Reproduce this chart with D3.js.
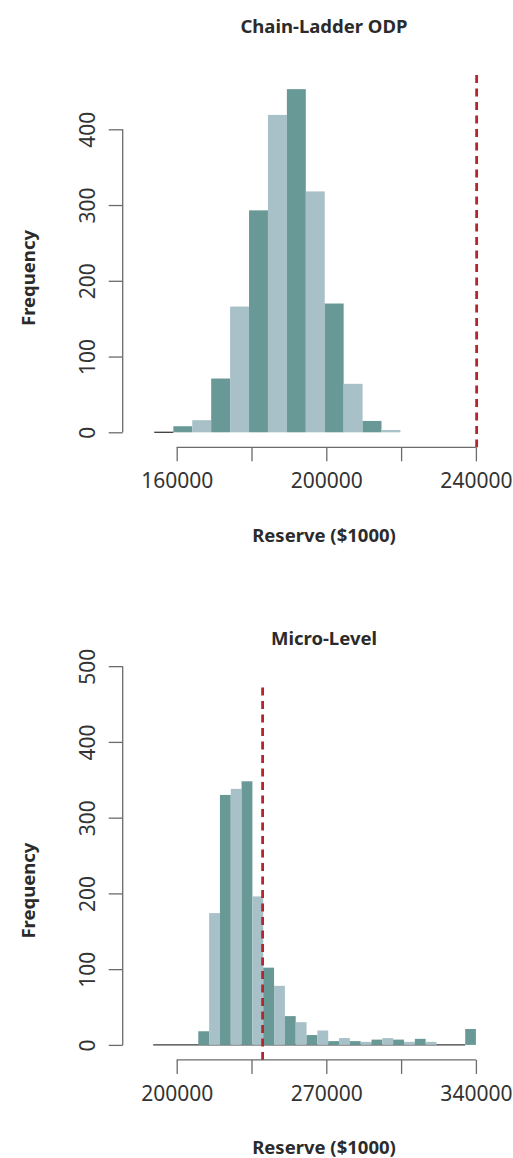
<!DOCTYPE html>
<html>
<head>
<meta charset="utf-8">
<script src="https://cdn.jsdelivr.net/npm/d3@7"></script>
<style>
  body { margin: 0; background: #fff; }
  svg { display: block; font-family: "Noto Sans", sans-serif; }
  .axis path, .axis line { stroke: #6b6b6b; stroke-width: 1.3; }
  .axis text { fill: #333; font-size: 21px; font-family: "Noto Sans", sans-serif; }
  .lab { fill: #2b2b2b; font-size: 18.5px; font-weight: bold; }
</style>
</head>
<body>
<div id="chart"></div>
<script>
// Chain-Ladder ODP histogram (reserve in $1000)
var odpBreaks = [159100, 164160, 169220, 174280, 179340, 184400, 189460, 194520, 199580, 204640, 209700, 214760, 219820];
var odpCounts = [8, 16, 71, 166, 293, 419, 453, 318, 170, 64, 15, 3];
var odpZero = [154000, 159100];
var odpXTicks = [160000, 180000, 200000, 220000, 240000];
var odpXLabels = [160000, 200000, 240000];
var odpYTicks = [0, 100, 200, 300, 400];

// Micro-Level histogram
var microBreaks = [210100, 215170, 220230, 225300, 230360, 235430, 240500, 245560, 250630, 255690, 260760, 265820,
                   270890, 275960, 281020, 286090, 291150, 296220, 301280, 306350, 311420, 316480, 321550];
var microCounts = [18, 174, 330, 338, 348, 196, 102, 78, 38, 30, 13, 19, 5, 9, 5, 4, 7, 9, 7, 4, 8, 4];
var microTail = [335000, 340000, 21];
var microZero = [189000, 335000];
var microXTicks = [200000, 235000, 270000, 305000, 340000];
var microXLabels = [200000, 270000, 340000];
var microYTicks = [0, 100, 200, 300, 400, 500];

// actual reserve (red dashed line)
var actualReserve = 240200;

var dark = "#689996", light = "#a8c1c8", red = "#b3262e";

function initialize(){
    var svg = d3.select("#chart").append("svg")
        .attr("width", 513)
        .attr("height", 1158);

    drawPanel(svg, {
        top: 0,
        title: "Chain-Ladder ODP",
        breaks: odpBreaks, counts: odpCounts, zero: odpZero, tail: null,
        xDomain: [160000, 240000], xTicks: odpXTicks, xLabels: odpXLabels,
        yMax: 400, yTicks: odpYTicks
    });

    drawPanel(svg, {
        top: 612.6,
        title: "Micro-Level",
        breaks: microBreaks, counts: microCounts, zero: microZero, tail: microTail,
        xDomain: [200000, 340000], xTicks: microXTicks, xLabels: microXLabels,
        yMax: 500, yTicks: microYTicks
    });
};

function drawPanel(svg, cfg){
    var g = svg.append("g").attr("transform", "translate(0," + cfg.top + ")");

    var axisX = 122.7,   // y axis position
        axisY = 447.3,   // x axis position
        plotTop = 75,
        centerX = 324;

    var x = d3.scaleLinear().domain(cfg.xDomain).range([176.7, 475.9]);
    var y = d3.scaleLinear().domain([0, cfg.yMax]).range([432.3, 432.3 - 0.7575 * cfg.yMax]);

    // zero-count stretch of the histogram
    g.append("line")
        .attr("x1", x(cfg.zero[0])).attr("x2", x(cfg.zero[1]))
        .attr("y1", y(0)).attr("y2", y(0))
        .attr("stroke", "#3a3a3a").attr("stroke-width", 1.3);

    var bins = cfg.counts.map(function(c, i){
        return { x0: cfg.breaks[i], x1: cfg.breaks[i + 1], n: c, fill: i % 2 == 0 ? dark : light };
    });
    if (cfg.tail){
        bins.push({ x0: cfg.tail[0], x1: cfg.tail[1], n: cfg.tail[2], fill: dark });
    }

    g.selectAll("rect.bar")
        .data(bins)
        .enter().append("rect")
        .attr("class", "bar")
        .attr("x", function(d){ return x(d.x0); })
        .attr("width", function(d){ return x(d.x1) - x(d.x0); })
        .attr("y", function(d){ return y(d.n); })
        .attr("height", function(d){ return y(0) - y(d.n); })
        .attr("fill", function(d){ return d.fill; });

    // red dashed line for the actual reserve
    g.append("line")
        .attr("x1", x(actualReserve)).attr("x2", x(actualReserve))
        .attr("y1", plotTop).attr("y2", axisY)
        .attr("stroke", red).attr("stroke-width", 2.8)
        .attr("stroke-dasharray", "8,5.5");

    // x axis
    var xAxis = d3.axisBottom(x)
        .tickValues(cfg.xTicks)
        .tickSize(14)
        .tickSizeOuter(0)
        .tickFormat(function(d){ return cfg.xLabels.indexOf(d) > -1 ? String(d) : ""; });

    var gx = g.append("g")
        .attr("class", "axis")
        .attr("transform", "translate(0," + axisY + ")")
        .call(xAxis);
    gx.select(".domain").remove();
    gx.append("line")
        .attr("x1", x(cfg.xTicks[0])).attr("x2", x(cfg.xTicks[cfg.xTicks.length - 1]))
        .attr("stroke", "#6b6b6b").attr("stroke-width", 1.3);
    gx.selectAll(".tick text")
        .attr("y", 41).attr("dy", 0);

    // y axis
    var yAxis = d3.axisLeft(y)
        .tickValues(cfg.yTicks)
        .tickSize(14)
        .tickSizeOuter(0)
        .tickFormat(d3.format("d"));

    var gy = g.append("g")
        .attr("class", "axis")
        .attr("transform", "translate(" + axisX + ",0)")
        .call(yAxis);
    gy.select(".domain").remove();
    gy.append("line")
        .attr("y1", y(0)).attr("y2", y(cfg.yMax))
        .attr("stroke", "#6b6b6b").attr("stroke-width", 1.3);
    gy.selectAll(".tick text")
        .attr("transform", "rotate(-90)")
        .attr("x", 0).attr("y", -27.7).attr("dy", 0)
        .attr("text-anchor", "middle");

    // titles
    g.append("text")
        .attr("class", "lab")
        .attr("x", centerX).attr("y", 32.7)
        .attr("text-anchor", "middle")
        .text(cfg.title);

    g.append("text")
        .attr("class", "lab")
        .attr("x", centerX).attr("y", 541.7)
        .attr("text-anchor", "middle")
        .text("Reserve ($1000)");

    g.append("text")
        .attr("class", "lab")
        .attr("transform", "translate(34.7,278) rotate(-90)")
        .attr("text-anchor", "middle")
        .text("Frequency");
};

initialize();
</script>
</body>
</html>
